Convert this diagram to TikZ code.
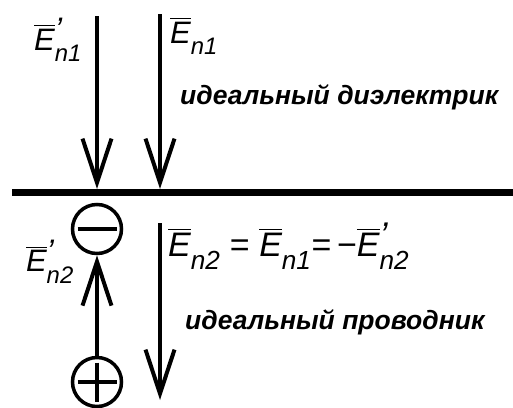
\documentclass[tikz,border=0pt]{standalone}
\usepackage{amsmath}
\usepackage{fontspec}
\setmainfont{Liberation Sans}
\usetikzlibrary{arrows.meta}
% field vector: subscript, prime
\newcommand{\fieldE}[2]{$\overline{\text{\itshape E}}{}^{\text{\itshape\scalebox{1.5}{#2}}}_{\text{\itshape\scalebox{1.1}{#1}}}$}

\begin{document}
\begin{tikzpicture}[x=1pt, y=-1pt,
      vec/.style={line width=4pt, -{Straight Barb[length=44pt, width=29pt, line width=4pt]}},
      lbl/.style={inner sep=0pt, font=\fontsize{31}{36}\selectfont},
      eqlbl/.style={lbl, font=\fontsize{34}{38}\selectfont},
      txt/.style={inner sep=0pt, font=\fontsize{26.5}{30}\selectfont\bfseries\itshape},
      charge/.style={circle, draw, line width=3.5pt, minimum size=49pt, inner sep=0pt},
      negcharge/.style={charge, path picture={
          \draw[line width=3.5pt] ([xshift=5pt]path picture bounding box.west)
            -- ([xshift=-5pt]path picture bounding box.east);}},
      poscharge/.style={charge, path picture={
          \draw[line width=3.5pt] ([xshift=5pt]path picture bounding box.west)
            -- ([xshift=-5pt]path picture bounding box.east);
          \draw[line width=3.5pt] ([yshift=-5pt]path picture bounding box.north)
            -- ([yshift=5pt]path picture bounding box.south);}}]
    \useasboundingbox (0,0) rectangle (513,407);

    % boundary
    \coordinate (bl) at (12,192);
    \coordinate (br) at (513,192);
    \draw[line width=7pt] (bl) -- (br);

    % incident and reflected field above
    \coordinate (a1) at (97,16);
    \coordinate (a1e) at (97,189);
    \coordinate (a2) at (160,14);
    \coordinate (a2e) at (160,189);
    \draw[vec] (a1) -- (a1e);
    \draw[vec] (a2) -- (a2e);
    \node[lbl, anchor=east] (l1) at (82,40) {\fieldE{n1}{'}};
    \node[lbl, anchor=west] (l2) at (170,36) {\fieldE{n1}{}};
    \node[txt, anchor=west] (diel) at (180,97) {идеальный диэлектрик};

    % charges in the conductor
    \node[negcharge] (minus) at (97,229) {};
    \node[poscharge] (plus) at (97,382) {};
    \draw[vec] (plus) -- (minus);
    \node[lbl, anchor=east] (l3) at (74,262) {\fieldE{n2}{'}};

    % field inside the conductor
    \coordinate (a3) at (160,223);
    \coordinate (a3e) at (160,400);
    \draw[vec] (a3) -- (a3e);
    \node[eqlbl, anchor=west] (eq) at (168,246)
      {\fieldE{n2}{} = \fieldE{n1}{}=\,−\fieldE{n2}{'}};
    \node[txt, anchor=west] (cond) at (185,322) {идеальный проводник};
  \end{tikzpicture}
\end{document}
